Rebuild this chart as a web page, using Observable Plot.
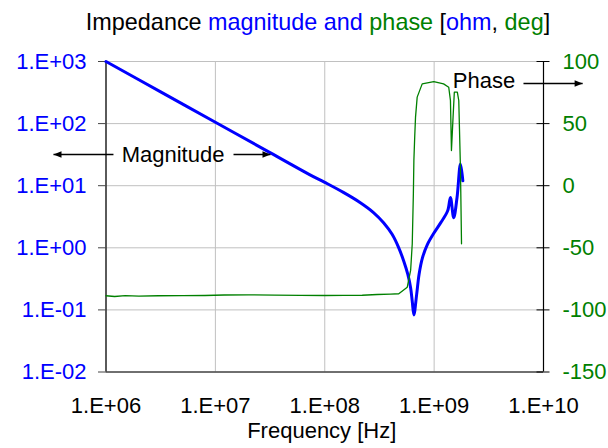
<!DOCTYPE html>
<html><head><meta charset="utf-8">
<script src="https://cdn.jsdelivr.net/npm/d3@7"></script>
<script src="https://cdn.jsdelivr.net/npm/@observablehq/plot@0.6"></script>
<style>
body{margin:0;background:#fff;font-family:"Liberation Sans",Arial,sans-serif;}
#wrap{position:relative;width:608px;height:448px;}
#title{position:absolute;top:8px;left:14px;width:608px;text-align:center;font-size:23.4px;line-height:28px;white-space:nowrap;color:#000;z-index:2;}
#chart{position:absolute;top:0;left:0;}
</style></head><body>
<div id="wrap">
<div id="title">Impedance <span style="color:#0000ff">magnitude and</span> <span style="color:#008000">phase</span> [<span style="color:#0000ff">ohm</span>, <span style="color:#008000">deg</span>]</div>
<div id="chart"></div>
</div>
<script>
// Magnitude |Z| in ohm vs frequency in Hz
const magFreq = [1e6, 3.16e6, 1e7, 3.16e7, 7.26e7, 1e8, 1.48e8, 2.10e8, 2.79e8, 3.45e8, 4.13e8, 4.75e8, 5.28e8, 5.75e8, 6.10e8, 6.31e8, 6.53e8, 6.92e8, 7.28e8, 7.82e8, 8.69e8, 1e9, 1.15e9, 1.33e9, 1.41e9, 1.51e9, 1.62e9, 1.74e9, 1.83e9];
const magnitude = [1000, 324, 105, 34.1, 15.1, 11.3, 7.8, 5.37, 3.70, 2.54, 1.65, 1.0, 0.608, 0.372, 0.225, 0.137, 0.083, 0.176, 0.372, 0.689, 1.135, 1.75, 2.54, 3.94, 6.46, 3.06, 6.46, 22.4, 12.0];
// Phase in degrees vs frequency in Hz
const phaseFreq = [1e6, 1.2e6, 1.5e6, 2e6, 3e6, 5e6, 8e6, 1.2e7, 2e7, 3.5e7, 6e7, 1e8, 1.5e8, 2.2e8, 3.02e8, 4.0e8, 4.75e8, 5.68e8, 6.10e8, 6.31e8, 6.46e8, 6.53e8, 6.65e8, 6.76e8, 7.0e8, 7.78e8, 9.93e8, 1.22e9, 1.36e9, 1.41e9, 1.44e9, 1.49e9, 1.53e9, 1.63e9, 1.68e9, 1.74e9, 1.78e9];
const phase = [-88.6, -89.2, -88.5, -88.9, -88.6, -88.5, -88.4, -88.0, -87.9, -88.1, -88.3, -88.4, -88.3, -88.2, -87.6, -87.3, -87.0, -81.7, -68, -46.8, -6.5, 20.3, 40, 55.2, 71.3, 82, 83.8, 82, 79.3, 68.6, 28.3, 55.2, 75.3, 75.3, 68.6, 14.9, -46.8];

// Axes
const xTicks = [1e6, 1e7, 1e8, 1e9, 1e10];
const magTicks = [1e-2, 1e-1, 1, 10, 100, 1000];
const phaseTicks = [-150, -100, -50, 0, 50, 100];

// Annotations (data coordinates: Hz, magnitude ohm / phase deg)
const magLabel = {text: "Magnitude", f: 4.1e6, z: 31.8};
const magArrowLeft = {f1: 1.17e6, f2: 3.31e5, z: 31.8};
const magArrowRight = {f1: 1.465e7, f2: 3.19e7, z: 31.8};
const phaseLabel = {text: "Phase", f: 2.86e9, p: 84.1};
const phaseArrow = {f1: 6.56e9, f2: 2.28e10, p: 82.3};

const blue = "#0000ff", green = "#008000", grid = "#c0c0c0";
const magDomain = [magTicks[0], magTicks[magTicks.length - 1]];
const phaseDomain = [phaseTicks[0], phaseTicks[phaseTicks.length - 1]];
const lo = Math.log10(magDomain[0]), hi = Math.log10(magDomain[1]);
const phaseToY = p => 10 ** (lo + (p - phaseDomain[0]) / (phaseDomain[1] - phaseDomain[0]) * (hi - lo));
const yToPhase = v => Math.round(phaseDomain[0] + (Math.log10(v) - lo) / (hi - lo) * (phaseDomain[1] - phaseDomain[0]));
const expFmt = d => { const e = Math.round(Math.log10(d)); return "1.E" + (e < 0 ? "-" : "+") + String(Math.abs(e)).padStart(2, "0"); };

const magData = magFreq.map((f, i) => ({f, z: magnitude[i]}));
const phaseData = phaseFreq.map((f, i) => ({f, y: phaseToY(phase[i])}));

const head = {draw(ctx) { ctx.moveTo(0, 0); ctx.lineTo(-8, -3.2); ctx.lineTo(-8, 3.2); ctx.closePath(); }};

const arrows = [
  {x1: magArrowLeft.f1, x2: magArrowLeft.f2, y: magArrowLeft.z, rot: 180},
  {x1: magArrowRight.f1, x2: magArrowRight.f2, y: magArrowRight.z, rot: 0},
  {x1: phaseArrow.f1, x2: phaseArrow.f2, y: phaseToY(phaseArrow.p), rot: 0}
];

const chart = Plot.plot({
  width: 608, height: 448,
  marginTop: 61, marginBottom: 76.5, marginLeft: 105.5, marginRight: 65,
  style: {fontFamily: "'Liberation Sans', Arial, sans-serif", fontSize: "22px", background: "transparent", overflow: "visible"},
  x: {type: "log", domain: [xTicks[0], xTicks[xTicks.length - 1]]},
  y: {type: "log", domain: magDomain},
  marks: [
    Plot.gridX(xTicks, {stroke: grid, strokeOpacity: 1}),
    Plot.gridY(magTicks, {stroke: grid, strokeOpacity: 1}),
    Plot.ruleX([xTicks[0], xTicks[xTicks.length - 1]], {stroke: "#000", strokeWidth: 1.2}),
    Plot.ruleY([magDomain[0]], {stroke: "#000", strokeWidth: 1.2}),
    Plot.axisX(xTicks, {tickSize: 0, tickPadding: 25.5, tickFormat: expFmt, label: null, fill: "#000"}),
    Plot.axisY(magTicks, {anchor: "left", tickSize: 7.5, tickPadding: 12, tickFormat: expFmt, label: null, fill: blue, stroke: "#444"}),
    Plot.axisY(phaseTicks.map(phaseToY), {anchor: "right", tickSize: 13, dx: -7.5, tickPadding: 13.5, tickFormat: yToPhase, label: null, fill: green, stroke: "#000", textAnchor: "start"}),
    Plot.line(magData, {x: "f", y: "z", stroke: blue, strokeWidth: 3, strokeLinejoin: "round", curve: "catmull-rom"}),
    Plot.line(phaseData, {x: "f", y: "y", stroke: green, strokeWidth: 1.3}),
    Plot.link(arrows, {x1: "x1", x2: "x2", y1: "y", y2: "y", stroke: "#000", strokeWidth: 1.5}),
    Plot.dot(arrows, {x: "x2", y: "y", symbol: head, rotate: "rot", r: 4, fill: "#000", stroke: null}),
    Plot.text([magLabel], {x: "f", y: "z", text: "text", fill: "#000", fontSize: 22}),
    Plot.text([phaseLabel], {x: "f", y: d => phaseToY(d.p), text: "text", fill: "#000", fontSize: 22}),
    Plot.text(["Frequency [Hz]"], {frameAnchor: "bottom", dy: 66, dx: -3, fill: "#000", fontSize: 22})
  ]
});
document.getElementById("chart").appendChild(chart);
</script>
</body></html>
